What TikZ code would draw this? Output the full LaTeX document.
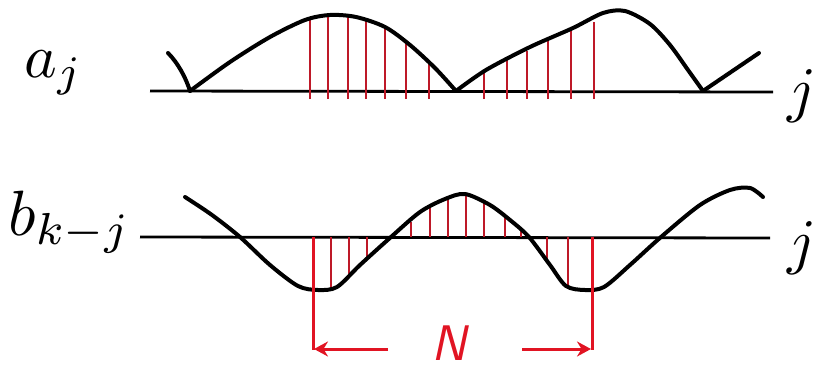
\documentclass[tikz,border=0pt]{standalone}
\usepackage{graphicx}
\usetikzlibrary{arrows.meta}
\definecolor{hatch}{RGB}{190,25,40}
\definecolor{dimred}{RGB}{225,20,35}
\begin{document}
\begin{tikzpicture}[x=1pt,y=-1pt,
  axisline/.style={line width=2.8pt,black},
  curveline/.style={line width=4pt,black,line cap=round,line join=round},
  hatchline/.style={line width=2.5pt,hatch},
  dimline/.style={line width=3pt,dimred},
  dimarrow/.style={line width=3pt,dimred,-{Stealth[length=14pt,width=15pt]}},
  lbl/.style={inner sep=0pt}]
\useasboundingbox (0,0) rectangle (817,372);
% axes
\draw[axisline] (150,91) -- (773,92);
\draw[axisline] (140,237) -- (770,238);
% top hatch lines
\foreach \x/\t in {310/19,328/17,348/16,366/20,385/27,406/42,429/63,484/73,507/59,527/51,548/41,571/30,594/22}
  \draw[hatchline] (\x,99) -- (\x,\t);
% top curve
\draw[curveline] (168,53) .. controls (178,63) and (186,78) .. (190,91);
\draw[curveline] plot[smooth,tension=0.5] coordinates {(190,91) (230,62) (270,37) (305,20) (330,15) (356,17) (385,27) (410,45) (435,68) (456,91)};
\draw[curveline] plot[smooth,tension=0.5] coordinates {(456,91) (486,70) (530,47) (573,28) (603,13) (625,11) (650,24) (670,45) (688,70) (703,91)};
\draw[curveline] (703,91) -- (759,53);
% bottom hatch lines
\foreach \x/\t in {331/288,349/276,367/260,411/222,430/208,448/199,466/195,484/202,505/216,521/230,547/261,568/285}
  \draw[hatchline] (\x,237) -- (\x,\t);
% bottom curve
\draw[curveline] plot[smooth,tension=0.5] coordinates {(185,197) (212,215) (240,237) (270,265) (298,286) (318,290) (337,287) (360,265) (391,237) (420,212) (445,199) (465,194) (490,205) (510,220) (529,237) (550,265) (566,286) (585,290) (604,287) (630,265) (661,237) (700,205) (730,190) (750,188) (763,197)};
% dimension N
\coordinate (lt) at (313,237);
\coordinate (lb) at (313,350);
\coordinate (rt) at (592,237);
\coordinate (rb) at (592,350);
\coordinate (la) at (388,349);
\coordinate (ra) at (522,349);
\draw[dimline] (lt) -- (lb);
\draw[dimline] (rt) -- (rb);
\draw[dimarrow] (la) -- (314,349);
\draw[dimarrow] (ra) -- (591,349);
\node[inner sep=0pt,anchor=base,text=dimred] (N) at (449,360) {\scalebox{5.0}{\sffamily\slshape N}};
% labels
\node[lbl,anchor=base west] (aj) at (24,77) {\scalebox{6.2}{$a_j$}};
\node[lbl,anchor=base west] (bkj) at (8,235) {\scalebox{6.4}{$b_{k-j}$}};
\node[lbl,anchor=base] (j1) at (802,110) {\scalebox{6.2}{$j$}};
\node[lbl,anchor=base] (j2) at (802,262) {\scalebox{6.2}{$j$}};
\end{tikzpicture}
\end{document}
